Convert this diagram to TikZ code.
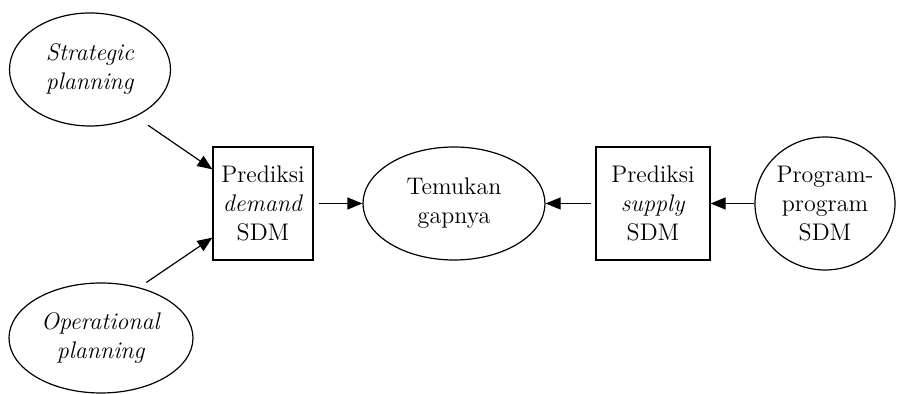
\documentclass[tikz,border=0pt]{standalone}
\usetikzlibrary{arrows.meta,shapes.geometric}

\begin{document}
\begin{tikzpicture}[node distance=96pt, line width=0.6pt,
    >={Triangle[length=7.5pt,width=6pt]},
    font=\fontsize{12}{14.5}\selectfont,
    ellip/.style={ellipse, draw, inner sep=0pt, align=center},
    kotak/.style={rectangle, draw, inner sep=0pt, align=center, minimum height=56.5pt}]
    \useasboundingbox (0,0) rectangle (451pt,-197pt);

    % Prediction boxes and gap
    \node (demand) [kotak, minimum width=50pt] at (131.5pt,-101.75pt) {Prediksi\\\textit{demand}\\SDM};
    \node (gap) [ellip, right of=demand, xshift=-0.5pt, minimum width=91pt, minimum height=56.5pt] {Temukan\\gapnya};
    \node (supply) [kotak, right of=gap, xshift=3.5pt, minimum width=57pt] {Prediksi\\\textit{supply}\\SDM};
    \node (program) [ellip, right of=supply, xshift=-10pt, minimum width=70pt, minimum height=66.5pt] {Program-\\program\\SDM};

    % Planning inputs
    \node (strategic) [ellip, left of=demand, xshift=9.5pt, yshift=67pt, minimum width=80.5pt, minimum height=56.5pt] {\textit{Strategic}\\\textit{planning}};
    \node (operational) [ellip, left of=demand, xshift=15pt, yshift=-67.25pt, minimum width=92pt, minimum height=55pt] {\textit{Operational}\\\textit{planning}};

    % Arrows
    \draw[->, shorten <=7.5pt] (strategic.-46) -- (demand.146);
    \draw[->, shorten <=4.3pt] (operational.53) -- (demand.214);
    \draw[->, shorten <=2.5pt] (demand) -- (gap);
    \draw[->, shorten <=2pt] (supply) -- (gap);
    \draw[->] (program) -- (supply);
\end{tikzpicture}
\end{document}
